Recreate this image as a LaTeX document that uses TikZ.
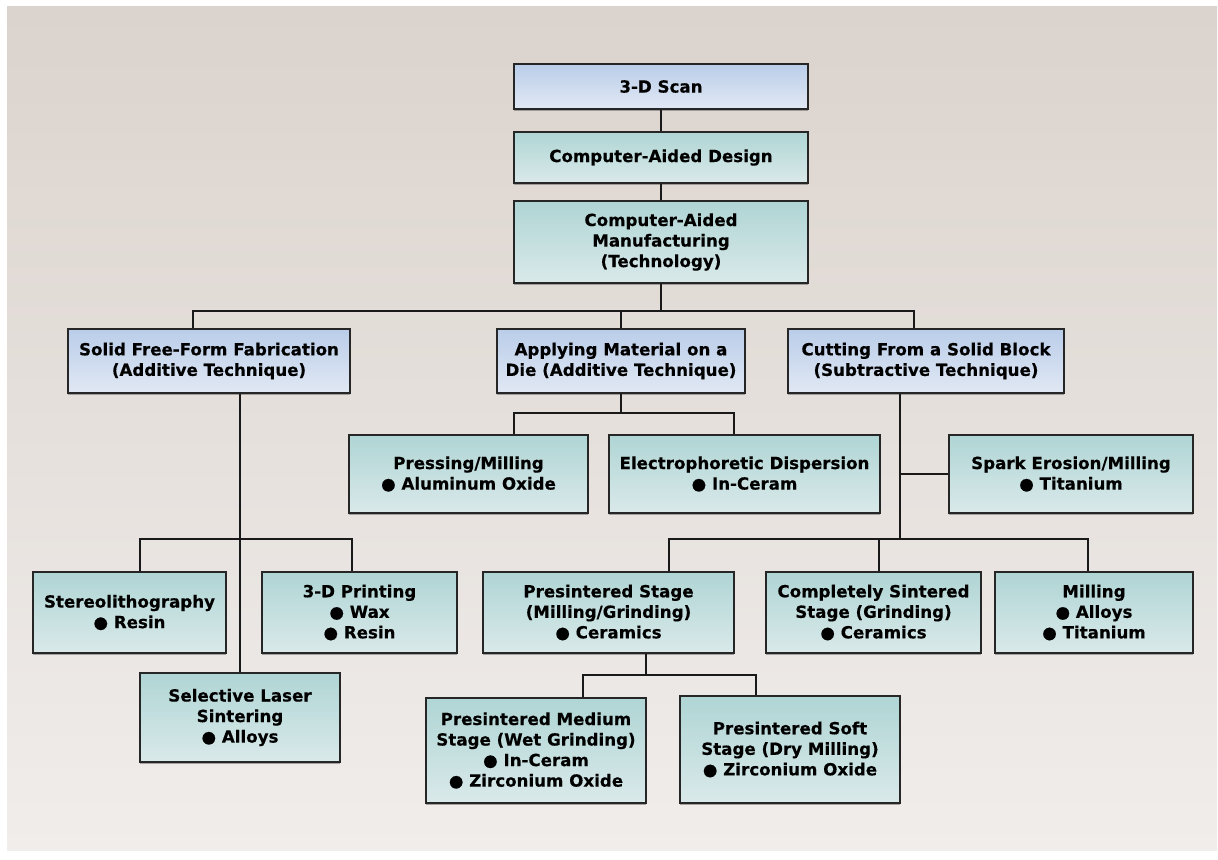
\documentclass[tikz,border=0pt]{standalone}
\usepackage{fontspec}
\setmainfont{DejaVu Sans}[BoldFeatures={FakeBold=0.4}]
\usetikzlibrary{calc,shadows}

\definecolor{bgtop}{HTML}{DBD3CD}
\definecolor{bgbot}{HTML}{F0EDEB}
\definecolor{bluetop}{HTML}{BACDE9}
\definecolor{bluebot}{HTML}{E1E8F4}
\definecolor{tealtop}{HTML}{AFD5D4}
\definecolor{tealbot}{HTML}{DAE9EA}

\tikzset{
  box/.style={draw=black!85, line width=1.5pt, align=center, inner sep=2pt,
    font=\bfseries\fontsize{12.5}{15.4}\selectfont,
    drop shadow={shadow xshift=0.3pt, shadow yshift=-1.2pt, fill=black!55, opacity=0.6}},
  topbox/.style={box, top color=bluetop, bottom color=bluebot},
  subbox/.style={box, top color=tealtop, bottom color=tealbot},
  wh/.style 2 args={minimum width=#1*0.75pt, minimum height=#2*0.75pt},
  link/.style={draw=black!90, line width=1.5pt},
}

\begin{document}
\begin{tikzpicture}[x=0.75pt,y=0.75pt,yscale=-1,xscale=1]
\useasboundingbox (0,0) rectangle (1218,860);

% background
\fill[white] (0,0) rectangle (1218,860);
\shade[top color=bgtop, bottom color=bgbot] (7,6) rectangle (1217,850);

% main chain
\node[topbox, wh={294}{45}] (scan) at (661,86.5) {3-D Scan};
\node[subbox, wh={294}{51}] (cad) at (661,157.5) {Computer-Aided Design};
\node[subbox, wh={294}{82}] (cam) at (661,242) {Computer-Aided\\Manufacturing\\(Technology)};

% techniques
\node[topbox, wh={282}{64}] (sff) at (209,361) {Solid Free-Form Fabrication\\(Additive Technique)};
\node[topbox, wh={248}{64}] (amd) at (621,361) {Applying Material on a\\Die (Additive Technique)};
\node[topbox, wh={276}{64}] (csb) at (926,361) {Cutting From a Solid Block\\(Subtractive Technique)};

% applying material on a die
\node[subbox, wh={239}{78}] (pm) at (468.5,474) {Pressing/Milling\\● Aluminum Oxide};
\node[subbox, wh={271}{78}] (ed) at (744.5,474) {Electrophoretic Dispersion\\● In-Ceram};
\node[subbox, wh={244}{78}] (se) at (1071,474) {Spark Erosion/Milling\\● Titanium};

% solid free-form
\node[subbox, wh={193}{81}] (st) at (129.5,612.5) {Stereolithography\\● Resin};
\node[subbox, wh={195}{81}] (tp) at (359.5,612.5) {3-D Printing\\● Wax\\● Resin};
\node[subbox, wh={200}{89}] (sls) at (240,717.5) {Selective Laser\\Sintering\\● Alloys};

% cutting from a solid block
\node[subbox, wh={251}{81}] (ps) at (608.5,612.5) {Presintered Stage\\(Milling/Grinding)\\● Ceramics};
\node[subbox, wh={215}{81}] (cs) at (873.5,612.5) {Completely Sintered\\Stage (Grinding)\\● Ceramics};
\node[subbox, wh={198}{81}] (mil) at (1094,612.5) {Milling\\● Alloys\\● Titanium};

% presintered
\node[subbox, wh={220}{105}] (psm) at (536,750.5) {Presintered Medium\\Stage (Wet Grinding)\\● In-Ceram\\● Zirconium Oxide};
\node[subbox, wh={220}{107}] (pss) at (790,749.5) {Presintered Soft\\Stage (Dry Milling)\\● Zirconium Oxide};

% connectors
\draw[link] (scan) -- (cad);
\draw[link] (cad) -- (cam);
\draw[link] (cam.south) -- ++(0,27) coordinate (j1) -| ([xshift=-12pt]sff.north);
\draw[link] (j1) -| ([xshift=-9pt]csb.north);
\draw[link] (j1 -| amd.north) -- (amd.north);

\draw[link] (amd.south) -- ++(0,19) coordinate (j2) -| ([xshift=34pt]pm.north);
\draw[link] (j2) -| ([xshift=-8pt]ed.north);

\coordinate (t3) at ([xshift=-19.5pt]csb.south);
\draw[link] (t3) -- ++(0,145) coordinate (j3);
\draw[link] (se.west) -- (se.west -| t3);
\draw[link] ([xshift=45pt]ps.north) |- (j3) -| ([xshift=-4.5pt]mil.north);
\draw[link] ([xshift=4pt]cs.north) -- ([xshift=4pt]cs.north |- j3);

\draw[link] (sls.north) -- (sls.north |- sff.south);
\draw[link] ([xshift=8pt]st.north) |- (j3 -| sls.north) -| ([xshift=-5.5pt]tp.north);

\draw[link] ([xshift=28pt]ps.south) -- ++(0,21) coordinate (j4) -| ([xshift=35pt]psm.north);
\draw[link] (j4) -| ([xshift=-25.5pt]pss.north);

\end{tikzpicture}
\end{document}
